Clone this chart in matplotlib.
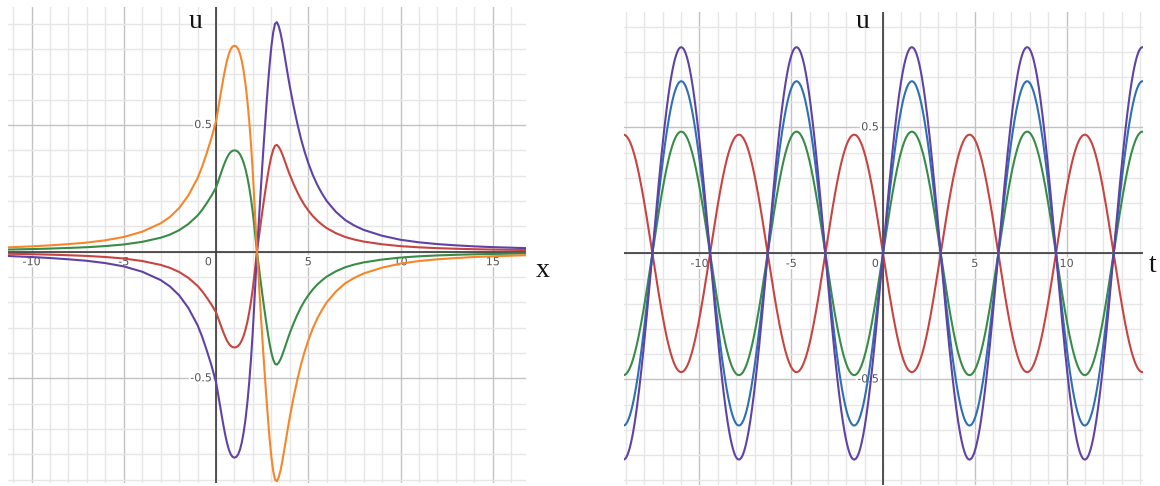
import matplotlib
matplotlib.use("Agg")
import matplotlib.pyplot as plt
import matplotlib.patheffects as pe
import numpy as np

# left panel: profile u(x)
x_pts = [-11.3, -10, -9, -8, -7, -6, -5, -4, -3, -2.5,
         -2, -1.5, -1, -0.75, -0.5, -0.25, 0,
         0.1, 0.2, 0.3, 0.4, 0.5, 0.6, 0.7, 0.8, 0.9, 1.0,
         1.1, 1.2, 1.3, 1.4, 1.5, 1.6, 1.7, 1.8, 1.9, 2.0, 2.1,
         2.22,
         2.3, 2.4, 2.5, 2.6, 2.7, 2.8, 2.9, 3.0, 3.1, 3.2, 3.3, 3.4, 3.5,
         3.6, 3.7, 3.8, 3.9, 4.0,
         4.2, 4.4, 4.6, 4.8, 5.0,
         5.25, 5.5, 5.75, 6.0,
         6.5, 7, 7.5, 8,
         9, 10, 11, 12, 13, 14, 15,
         16.8]
u_profile = [0.017, 0.021, 0.025, 0.030, 0.036, 0.045, 0.058, 0.079, 0.112, 0.137,
             0.172, 0.222, 0.290, 0.336, 0.390, 0.448, 0.515,
             0.556, 0.600, 0.643, 0.685, 0.723, 0.756, 0.782, 0.800, 0.810, 0.813,
             0.810, 0.800, 0.781, 0.752, 0.712, 0.660, 0.595, 0.515, 0.420, 0.305, 0.170,
             0.0,
             -0.095, -0.215, -0.330, -0.440, -0.545, -0.645, -0.735, -0.810, -0.866,
             -0.900, -0.906, -0.890, -0.862,
             -0.825, -0.782, -0.738, -0.694, -0.652,
             -0.576, -0.508, -0.447, -0.395, -0.350,
             -0.302, -0.262, -0.229, -0.200,
             -0.157, -0.125, -0.103, -0.086,
             -0.063, -0.047, -0.037, -0.030, -0.025, -0.021, -0.018,
             -0.014]

# the four left curves are scaled copies of that profile
left_names = ["red", "green", "purple", "orange"]
left_scale = [-0.465, 0.492, -1.0, 1.0]

# right panel: u(t) = amp * sin(t), amplitudes
right_names = ["red", "green", "blue", "purple"]
right_amp = [-0.471, 0.483, 0.683, 0.818]

COLORS = {"red": "#c74440", "blue": "#2d70b3", "green": "#388c46",
          "purple": "#6042a6", "orange": "#f7862a"}

W, H = 1160, 486
fig = plt.figure(figsize=(W / 100, H / 100), dpi=100)


def px_axes(l, t, r, b):
    return fig.add_axes([l / W, 1 - b / H, (r - l) / W, (b - t) / H])


halo = [pe.withStroke(linewidth=3, foreground="white")]


def desmos_grid(ax, xlim, ylim, xlabels, ylabels):
    ax.set_xlim(*xlim)
    ax.set_ylim(*ylim)
    for s in ax.spines.values():
        s.set_visible(False)
    ax.set_xticks([])
    ax.set_yticks([])
    for xv in np.arange(np.ceil(xlim[0]), xlim[1] + 0.01, 1):
        major = abs(xv % 5) < 1e-9
        ax.axvline(xv, color="#c2c2c2" if major else "#e6e6e6",
                   lw=1.0, zorder=0)
    for yv in np.arange(-0.9, ylim[1] + 0.001, 0.1):
        yv = round(yv, 1)
        major = abs(round(yv * 2) - yv * 2) < 1e-9
        ax.axhline(yv, color="#c2c2c2" if major else "#e6e6e6",
                   lw=1.0, zorder=0)
    ax.axhline(0, color="#3a3a3a", lw=1.2, zorder=1)
    ax.axvline(0, color="#3a3a3a", lw=1.2, zorder=1)
    for xv in xlabels:
        if xv == 0:
            ax.annotate("0", (0, 0), xytext=(-3, -4), textcoords="offset points",
                        ha="right", va="top", fontsize=8, color="#555555",
                        path_effects=halo, zorder=2)
        else:
            ax.annotate(f"{xv:g}", (xv, 0), xytext=(0, -4),
                        textcoords="offset points", ha="center", va="top",
                        fontsize=8, color="#555555", path_effects=halo, zorder=2)
    for yv in ylabels:
        ax.annotate(f"{yv:g}", (0, yv), xytext=(-3, 0), textcoords="offset points",
                    ha="right", va="center", fontsize=8, color="#555555",
                    path_effects=halo, zorder=2)


# left panel
ax1 = px_axes(7.9, 6.7, 525.8, 483)
desmos_grid(ax1, (-11.28, 16.79), (-0.913, 0.967),
            [-10, -5, 0, 5, 10, 15], [0.5, -0.5])
prof = np.array(u_profile)
for name, k in zip(left_names, left_scale):
    ax1.plot(x_pts, k * prof, color=COLORS[name], lw=1.5, zorder=3,
             solid_joinstyle="round")

# right panel
ax2 = px_axes(623.5, 11.7, 1142.7, 485)
desmos_grid(ax2, (-14.14, 14.15), (-0.919, 0.959),
            [-10, -5, 0, 5, 10], [0.5, -0.5])
t = np.linspace(-14.14, 14.15, 1200)
for name, a in zip(right_names, right_amp):
    ax2.plot(t, a * np.sin(t), color=COLORS[name], lw=1.5, zorder=3)

# axis names
serif = dict(family="Liberation Serif", fontsize=20, color="#111111",
             ha="center", va="center")
fig.text(195.6 / W, 1 - 22 / H, "u", **serif)
fig.text(542.7 / W, 1 - 270 / H, "x", **serif)
fig.text(862.7 / W, 1 - 22 / H, "u", **serif)
fig.text(1153 / W, 1 - 265 / H, "t", **serif)

fig.savefig("out.png", dpi=100, facecolor="white")
